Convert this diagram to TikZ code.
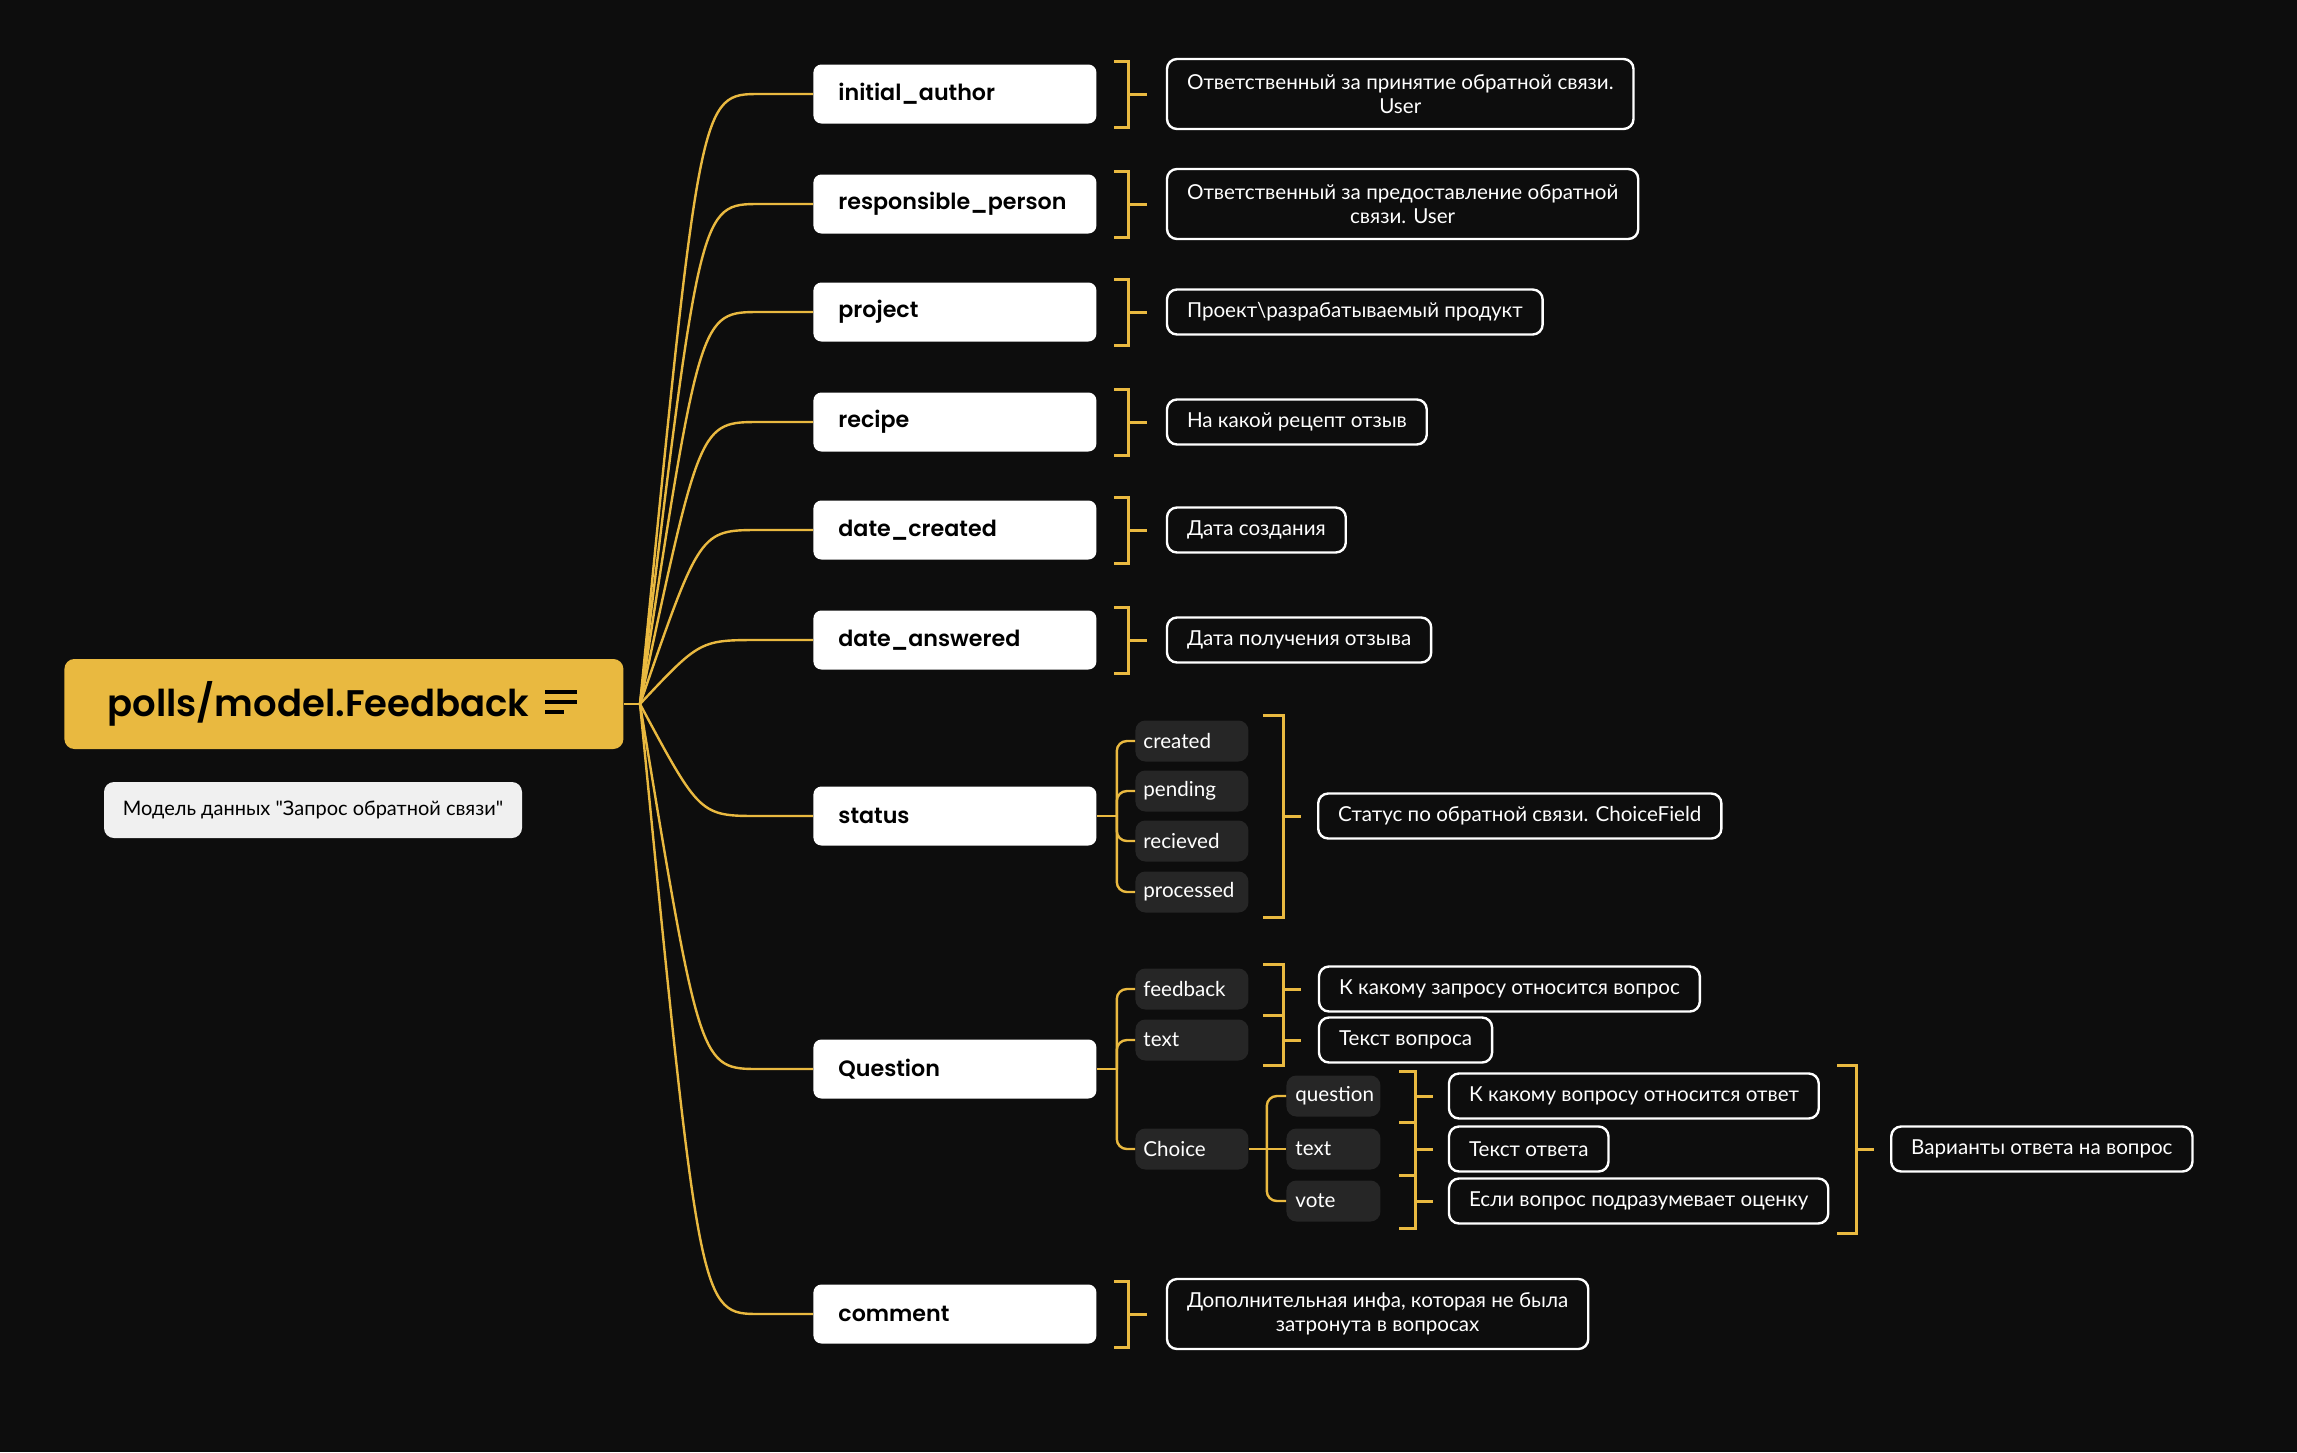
\documentclass[tikz,border=0pt]{standalone}
\usepackage{fontspec}
\setmainfont{Lato}
\newfontfamily\headfont{Poppins}[BoldFont={Poppins SemiBold}]
\usetikzlibrary{calc,positioning}
\hyphenpenalty=10000

\definecolor{bg}{HTML}{0D0D0D}
\definecolor{gold}{HTML}{E9B940}
\definecolor{chipgray}{HTML}{262626}
\definecolor{notegray}{HTML}{F0F0F0}

\tikzset{
  root/.style={fill=gold, rounded corners=5pt, anchor=west, minimum height=45pt, text width=236.5pt, inner xsep=21.5pt, align=left, font=\headfont\bfseries\fontsize{18.5}{22}\selectfont},
  field/.style={fill=white, rounded corners=4pt, anchor=west, minimum height=29.5pt, text width=116.5pt, inner xsep=12.5pt, align=left, font=\headfont\bfseries\fontsize{11.1}{12}\selectfont},
  desc/.style={draw=white, line width=1.2pt, fill=bg, text=white, rounded corners=5pt, minimum height=22.5pt, inner xsep=10pt, inner ysep=6pt, align=center, font=\fontsize{10.3}{12}\selectfont},
  desctwo/.style={desc, minimum height=35pt},
  chip/.style={fill=chipgray, text=white, rounded corners=5pt, anchor=west, minimum height=20.5pt, text width=48.5pt, inner xsep=4pt, align=left, font=\fontsize{10.3}{12}\selectfont},
  subchip/.style={chip, text width=38pt, inner xsep=4.5pt},
  branch/.style={draw=gold, line width=1.2pt},
  bracket/.style={draw=gold, line width=1.5pt}
}

\begin{document}
\begin{tikzpicture}[x=0.5pt, y=-0.5pt]
  \fill[bg] (0,0) rectangle (2297,1452);
  \useasboundingbox (0,0) rectangle (2297,1452);

  \node[root] (root) at (64,704) {polls/model.Feedback};
  \draw[black, line width=2pt] (545,692) -- (577,692) (545,702) -- (577,702) (545,712) -- (564,712);
  \node[fill=notegray, rounded corners=5pt, minimum width=209pt, minimum height=28pt, font=\fontsize{10}{11}\selectfont] (note) at (313,810) {Модель данных \textquotedbl Запрос обратной связи\textquotedbl};
  \coordinate (hub) at (640,704);
  \draw[branch] (root.east) -- (hub);

  \node[field] (author) at (813,94) {initial\_author};
  \node[field] (responsible) at (813,204) {responsible\_person};
  \node[field] (project) at (813,312) {project};
  \node[field] (recipe) at (813,422) {recipe};
  \node[field] (datecreated) at (813,530) {date\_created};
  \node[field] (dateanswered) at (813,640) {date\_answered};
  \node[field] (status) at (813,816) {status};
  \node[field] (question) at (813,1069) {Question};
  \node[field] (comment) at (813,1314) {comment};

  \foreach \f in {author,responsible,project,recipe,datecreated,dateanswered,status,question,comment}
    \draw[branch] (hub) .. controls ($(hub |- \f.west)+(60,0)$) .. ($(hub |- \f.west)+(120,0)$) -- (\f.west);

  \foreach \f in {author,responsible,project,recipe,datecreated,dateanswered,comment}
    \draw[bracket] ($(\f.east)+(17,-33)$) -- ++(15,0) -- ++(0,66) -- ++(-15,0)
      ($(\f.east)+(32,0)$) -- ++(18,0);

  \node[desctwo, right=34.5pt of author] (dauthor) {Ответственный за принятие обратной связи.\\User};
  \node[desctwo, right=34.5pt of responsible] (dresponsible) {Ответственный за предоставление обратной\\связи. User};
  \node[desc, right=34.5pt of project] (dproject) {Проект\textbackslash{}разрабатываемый продукт};
  \node[desc, right=34.5pt of recipe] (drecipe) {На какой рецепт отзыв};
  \node[desc, right=34.5pt of datecreated] (ddatecreated) {Дата создания};
  \node[desc, right=34.5pt of dateanswered] (ddateanswered) {Дата получения отзыва};
  \node[desctwo, right=34.5pt of comment] (dcomment) {Дополнительная инфа, которая не была\\затронута в вопросах};

  % status values
  \node[chip] (stcreated) at (1135,741) {created};
  \node[chip] (stpending) at (1135,791) {pending};
  \node[chip] (streceived) at (1135,841) {recieved};
  \node[chip] (stprocessed) at (1135,892) {processed};
  \draw[branch] (status.east) -- ++(20,0) coordinate (stspine);
  \foreach \c in {stcreated,stpending,streceived,stprocessed}
    \draw[branch, rounded corners=5pt] (stspine) |- (\c.west);
  \draw[bracket] (1263,715) -- (1283,715) -- (1283,917) -- (1263,917) (1283,816) -- (1301,816);
  \node[desc, anchor=west] (dstatus) at (1317,816) {Статус по обратной связи. ChoiceField};

  % question fields
  \node[chip] (qfeedback) at (1135,989) {feedback};
  \node[chip] (qtext) at (1135,1040) {text};
  \node[chip] (qchoice) at (1135,1149) {Choice};
  \draw[branch] (question.east) -- ++(20,0) coordinate (qspine);
  \foreach \c in {qfeedback,qtext,qchoice}
    \draw[branch, rounded corners=5pt] (qspine) |- (\c.west);
  \draw[bracket] (1263,964) -- (1283,964) -- (1283,1065) -- (1263,1065) (1263,1015) -- (1283,1015)
    (1283,989) -- (1301,989) (1283,1040) -- (1301,1040);
  \node[desc, right=34.5pt of qfeedback] (dqfeedback) {К какому запросу относится вопрос};
  \node[desc, right=34.5pt of qtext] (dqtext) {Текст вопроса};

  \node[subchip] (chquestion) at (1286,1096) {question};
  \node[subchip] (chtext) at (1286,1149) {text};
  \node[subchip] (chvote) at (1286,1201) {vote};
  \draw[branch] (qchoice.east) -- ++(18,0) coordinate (chspine);
  \draw[branch] (chspine) -- (chtext.west);
  \foreach \c in {chquestion,chvote}
    \draw[branch, rounded corners=5pt] (chspine) |- (\c.west);
  \draw[bracket] (1399,1071) -- (1415,1071) -- (1415,1228) -- (1399,1228)
    (1399,1122) -- (1415,1122) (1399,1175) -- (1415,1175)
    (1415,1096) -- (1433,1096) (1415,1149) -- (1433,1149) (1415,1201) -- (1433,1201);
  \node[desc, right=33.5pt of chquestion] (dchquestion) {К какому вопросу относится ответ};
  \node[desc, right=33.5pt of chtext] (dchtext) {Текст ответа};
  \node[desc, right=33.5pt of chvote] (dchvote) {Если вопрос подразумевает оценку};
  \draw[bracket] (1837,1065) -- (1856,1065) -- (1856,1233) -- (1837,1233) (1856,1149) -- (1874,1149);
  \node[desc, anchor=west] (dchoice) at (1890,1149) {Варианты ответа на вопрос};
\end{tikzpicture}
\end{document}
